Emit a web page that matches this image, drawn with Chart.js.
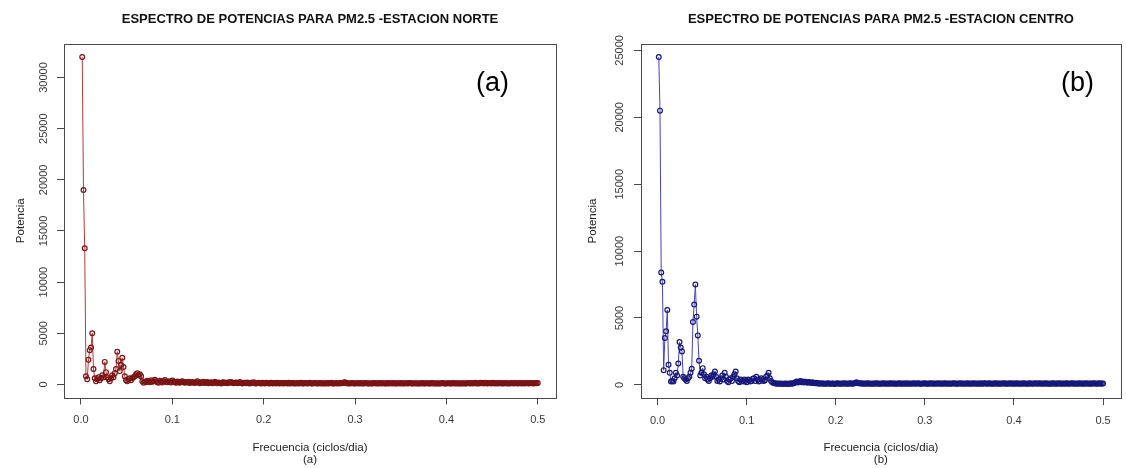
<!DOCTYPE html>
<html>
<head>
<meta charset="utf-8">
<script src="https://cdn.jsdelivr.net/npm/chart.js@4.4.1/dist/chart.umd.min.js"></script>
<style>
html,body{margin:0;padding:0;background:#fff;}
#wrap{position:relative;width:1126px;height:468px;overflow:hidden;background:#fff;}
canvas{position:absolute;top:0;}
.tag{position:absolute;font-family:"Liberation Sans",Arial,sans-serif;font-size:27px;color:#000;line-height:1;white-space:nowrap;}
</style>
</head>
<body>
<div id="wrap">
  <canvas id="c1" width="563" height="468" style="left:0;width:563px;height:468px"></canvas>
  <canvas id="c2" width="563" height="468" style="left:563px;width:563px;height:468px"></canvas>
  <div class="tag" style="left:476px;top:69px">(a)</div>
  <div class="tag" style="left:1061px;top:69px">(b)</div>
</div>
<script>
// ---------------- data ----------------
const titleNorte = 'ESPECTRO DE POTENCIAS PARA PM2.5 -ESTACION NORTE';
const titleCentro = 'ESPECTRO DE POTENCIAS PARA PM2.5 -ESTACION CENTRO';
const xAxisTitle = 'Frecuencia (ciclos/dia)';
const yAxisTitle = 'Potencia';
const xTickValues = [0, 0.1, 0.2, 0.3, 0.4, 0.5];
const xTickLabels = ['0.0', '0.1', '0.2', '0.3', '0.4', '0.5'];
const yTicksNorte = [0, 5000, 10000, 15000, 20000, 25000, 30000];
const yTicksCentro = [0, 5000, 10000, 15000, 20000, 25000];

// number of daily observations (Fourier frequencies k / nObs, k = 1..nObs/2)
const nObs = 730;

// periodogram ordinates, Estacion Norte
const powerNorte = [
32000,19000,13300,800,500,2400,3350,3600,5000,1500,
600,300,500,700,400,600,900,700,2200,1200,
700,500,300,600,900,700,1100,1500,3200,2300,
1300,1900,2600,1700,800,400,300,500,600,400,
600,700,800,1000,1100,900,1000,800,300,150,
250,200,350,300,200,400,250,300,450,300,
200,150,350,250,180,300,420,260,200,310,
240,180,380,260,200,150,280,220,170,260,
320,200,150,230,180,270,140,200,240,160,
130,220,300,170,120,210,160,250,140,180,
230,120,160,200,110,170,260,150,120,190,
140,100,180,220,130,160,110,200,150,240,
170,120,150,190,110,140,230,130,100,170,
150,120,180,110,90,160,130,200,120,100,
140,170,110,90,150,120,100,160,130,80,
120,150,90,110,140,100,170,120,90,130,
110,80,140,120,100,150,90,110,130,80,
120,100,140,90,110,160,100,80,130,110,
90,120,150,100,80,110,130,90,120,100,
140,90,110,80,120,100,130,90,110,150,
100,80,120,110,90,130,100,140,120,180,
220,130,100,120,90,110,140,100,80,120,
110,90,130,100,120,80,110,140,90,100,
120,100,90,130,110,80,120,100,140,90,
110,120,90,100,130,80,110,120,90,140,
100,80,120,110,90,130,100,90,120,110,
80,110,130,90,100,120,80,110,100,90,
120,100,140,90,80,110,120,90,100,130,
90,110,100,80,120,100,90,110,130,90,
100,80,120,110,90,100,130,90,110,100,
120,90,100,110,80,120,100,90,130,110,
100,140,90,110,160,100,120,90,150,110,
130,100,170,120,90,140,110,100,150,120,
100,130,90,110,140,100,120,90,130,110,
100,120,90,140,110,100,130,120,90,110,
130,100,120,110,90,140,120,100,130,110,
120,100,140,110,130
];

// periodogram ordinates, Estacion Centro
const powerCentro = [
24500,20500,8400,7700,1100,3500,4000,5600,1500,900,
250,300,250,500,900,700,1600,3200,2800,2500,
600,500,400,300,500,600,900,1200,4700,6000,
7500,5100,3700,1800,700,900,1250,800,500,600,
400,300,500,700,600,800,1000,600,300,400,
250,500,700,400,900,600,300,200,400,500,
300,600,800,1000,500,300,200,400,300,250,
400,300,200,400,350,250,300,450,500,300,
600,400,250,300,500,400,300,350,600,700,
900,500,300,200,150,120,100,90,110,80,
100,90,70,110,80,100,70,90,120,80,
100,150,200,250,180,220,300,200,260,180,
240,200,160,220,180,140,200,150,120,160,
110,130,90,120,100,80,110,90,100,120,
90,80,110,100,70,90,120,100,80,110,
90,100,130,80,110,90,100,120,80,100,
110,150,200,140,120,100,130,90,110,100,
80,120,100,90,110,80,100,90,120,100,
90,110,80,100,120,90,100,110,80,100,
120,90,110,100,80,110,90,130,100,90,
110,100,80,120,90,100,110,80,100,120,
90,110,100,130,90,80,110,100,120,90,
100,80,110,120,90,100,110,80,100,130,
90,110,100,80,120,100,90,110,100,80,
110,100,120,90,100,80,110,130,90,100,
110,90,100,120,80,100,110,90,120,100,
90,110,100,80,120,90,100,130,110,90,
100,120,90,110,80,100,120,90,110,100,
80,110,100,120,90,100,80,110,130,90,
100,110,90,120,100,80,110,100,90,120,
100,90,110,80,120,100,90,110,100,130,
90,100,120,80,110,100,90,120,110,90,
100,80,110,120,90,100,110,90,130,100,
90,110,100,80,120,100,90,110,100,120,
90,100,110,80,100,120,90,110,100,90,
120,100,80,110,100,90,120,100,110,90,
100,120,90,110,100
];

// ---------------- chart ----------------
const FONT = '"Liberation Sans", Arial, Helvetica, sans-serif';
Chart.defaults.font.family = FONT;

function rRange(vals, frac) {
  const lo = Math.min(...vals), hi = Math.max(...vals), d = (hi - lo) * frac;
  return [lo - d, hi + d];
}

function makePanel(id, p) {
  const freqs = p.values.map((_, i) => (i + 1) / nObs);
  const [xMin, xMax] = rRange(freqs, 0.04);
  const [yMin, yMax] = rRange(p.values.concat([0]), 0.04);

  const rAxes = {
    id: 'rAxes' + id,
    afterDraw(chart) {
      const ctx = chart.ctx, a = chart.chartArea, ys = chart.scales.y;
      ctx.save();
      ctx.strokeStyle = '#4a4a4a';
      ctx.lineWidth = 1;
      ctx.strokeRect(Math.round(a.left) + 0.5, Math.round(a.top) + 0.5,
                     Math.round(a.right - a.left), Math.round(a.bottom - a.top));
      ctx.fillStyle = '#3a3a3a';
      ctx.font = '11px ' + FONT;
      ctx.textAlign = 'center';
      ctx.textBaseline = 'middle';
      ys.ticks.forEach(t => {
        const y = ys.getPixelForValue(t.value);
        ctx.save();
        ctx.translate(p.yLabelX, y);
        ctx.rotate(-Math.PI / 2);
        ctx.fillText(String(t.value), 0, 0);
        ctx.restore();
      });
      ctx.restore();
    }
  };

  return new Chart(document.getElementById(id), {
    type: 'line',
    data: {
      labels: freqs,
      datasets: [{
        data: p.values,
        borderColor: p.lineColor,
        borderWidth: 1,
        pointRadius: 2.4,
        pointBorderWidth: 1.2,
        pointBorderColor: p.pointColor,
        pointBackgroundColor: 'rgba(0,0,0,0)',
        tension: 0,
        fill: false
      }]
    },
    options: {
      responsive: false,
      animation: false,
      devicePixelRatio: 1,
      layout: { padding: { left: 0, right: p.padRight, top: 0, bottom: 0 } },
      plugins: {
        legend: { display: false },
        tooltip: { enabled: false },
        title: {
          display: true, text: p.title, fullSize: false, color: '#111',
          font: { size: 13, weight: 'bold', lineHeight: 1.2 },
          padding: { top: 11.2, bottom: 17.2 }
        }
      },
      scales: {
        x: {
          type: 'linear', min: xMin, max: xMax,
          afterBuildTicks: s => { s.ticks = xTickValues.map(v => ({ value: v })); },
          afterFit: s => { s.height = p.xHeight; },
          ticks: { callback: (v, i) => xTickLabels[i], color: '#3a3a3a', font: { size: 11 },
                   padding: 9, maxRotation: 0, minRotation: 0, autoSkip: false },
          grid: { drawOnChartArea: false, drawTicks: true, tickLength: 7, tickColor: '#4a4a4a', color: '#4a4a4a' },
          border: { display: false },
          title: { display: true, text: [xAxisTitle, p.sub], color: '#222',
                   font: { size: 11.5, lineHeight: 1.05 }, padding: { top: 0, bottom: 2 } }
        },
        y: {
          type: 'linear', min: yMin, max: yMax,
          afterBuildTicks: s => { s.ticks = p.yTicks.map(v => ({ value: v })); },
          afterFit: s => { s.width = p.yWidth; },
          ticks: { display: false },
          grid: { drawOnChartArea: false, drawTicks: true, tickLength: 7, tickColor: '#4a4a4a', color: '#4a4a4a' },
          border: { display: false },
          title: { display: true, text: yAxisTitle, color: '#222',
                   font: { size: 11.5, lineHeight: 1.2 }, padding: { top: p.yTitlePad, bottom: 0 } }
        }
      }
    },
    plugins: [rAxes]
  });
}

makePanel('c1', {
  title: titleNorte, sub: '(a)', values: powerNorte, yTicks: yTicksNorte,
  lineColor: '#b83a3a', pointColor: '#7a1414',
  yWidth: 64, padRight: 7, xHeight: 70.5, yLabelX: 43.5, yTitlePad: 14
});
makePanel('c2', {
  title: titleCentro, sub: '(b)', values: powerCentro, yTicks: yTicksCentro,
  lineColor: '#4545b8', pointColor: '#18187a',
  yWidth: 78, padRight: 1, xHeight: 70, yLabelX: 57, yTitlePad: 23
});
</script>
</body>
</html>
